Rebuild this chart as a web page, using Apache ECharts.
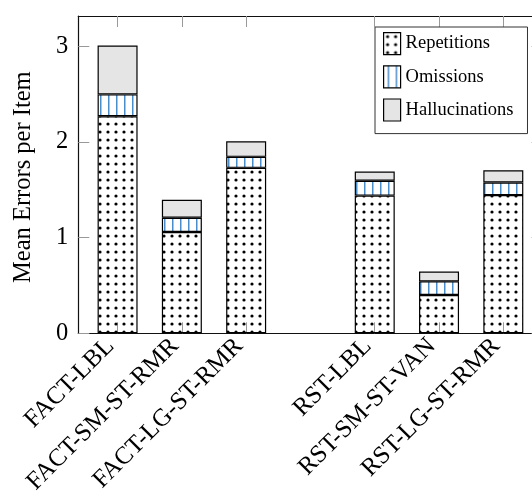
<!DOCTYPE html>
<html><head><meta charset="utf-8">
<script src="https://cdn.jsdelivr.net/npm/echarts@6/dist/echarts.min.js"></script>
<style>html,body{margin:0;padding:0;background:#fff}#c{width:532px;height:492px}</style>
</head><body><div id="c"></div>
<script>
const categories = ['FACT-LBL','FACT-SM-ST-RMR','FACT-LG-ST-RMR','','RST-LBL','RST-SM-ST-VAN','RST-LG-ST-RMR'];
const seriesNames = ['Repetitions','Omissions','Hallucinations'];
const repetitions = [2.27,1.06,1.73,null,1.44,0.40,1.445];
const omissions = [0.228,0.149,0.115,null,0.155,0.143,0.132];
const hallucinations = [0.512,0.188,0.163,null,0.097,0.102,0.128];
const yTicks = [0,1,2,3];

const FONT = '"Liberation Serif","Times New Roman",serif';
const tickIdx = categories.map((c,i)=>c?i:null).filter(v=>v!==null);

function dotPattern(){
  const c=document.createElement('canvas'); c.width=8; c.height=8;
  const g=c.getContext('2d'); g.fillStyle='#000';
  g.beginPath(); g.arc(4,4,1.6,0,2*Math.PI); g.fill();
  return c;
}
function linePattern(){
  const c=document.createElement('canvas'); c.width=8; c.height=8;
  const g=c.getContext('2d');
  g.fillStyle='#4a8dcb'; g.fillRect(4,0,1,8);
  g.fillStyle='rgba(74,141,203,0.5)'; g.fillRect(5,0,1,8);
  return c;
}
const fills = [
  {image: dotPattern(), repeat:'repeat'},
  {image: linePattern(), repeat:'repeat'},
  '#e5e5e5'
];
const valueSets = [repetitions, omissions, hallucinations];

const axisLineStyle = {color:'#111', width:1.2};
const tickStyle = {color:'#999', width:1};
const xMin = -0.611, xMax = 6.611;
const AX_FS = 24.5;

const chart = echarts.init(document.getElementById('c'), null, {renderer:'canvas'});
chart.setOption({
  animation:false,
  backgroundColor:'#fff',
  grid:{left:78.3, top:16, right:-10.6, bottom:158.7, containLabel:false, outerBoundsMode:'none'},
  legend:{
    orient:'vertical', left:375, top:27, padding:[5,14,12,8],
    itemWidth:17, itemHeight:22, itemGap:10, icon:'rect',
    backgroundColor:'#fff', borderColor:'#333', borderWidth:1,
    textStyle:{fontFamily:FONT, fontSize:18.5, color:'#000'},
    itemStyle:{borderColor:'#000', borderWidth:1.2},
    data:seriesNames
  },
  xAxis:[
    {type:'value', min:xMin, max:xMax, position:'bottom',
     axisLine:{show:true, onZero:false, lineStyle:axisLineStyle},
     axisTick:{show:true, inside:true, length:11, customValues:tickIdx, lineStyle:tickStyle},
     axisLabel:{show:true, customValues:tickIdx, rotate:45, margin:2, padding:[0,10,0,0],
       formatter:(v)=>categories[Math.round(v)],
       fontFamily:FONT, fontSize:25, color:'#000'},
     splitLine:{show:false}},
    {type:'value', min:xMin, max:xMax, position:'top',
     axisLine:{show:true, onZero:false, lineStyle:axisLineStyle},
     axisTick:{show:true, inside:true, length:11, customValues:tickIdx, lineStyle:tickStyle},
     axisLabel:{show:false}, splitLine:{show:false}}
  ],
  yAxis:[
    {type:'value', min:0, max:3.318, position:'left',
     axisLine:{show:true, onZero:false, lineStyle:axisLineStyle},
     axisTick:{show:true, inside:true, length:11, customValues:yTicks, lineStyle:tickStyle},
     axisLabel:{show:true, customValues:yTicks, margin:10, fontFamily:FONT, fontSize:AX_FS, color:'#000'},
     splitLine:{show:false},
     name:'Mean Errors per Item', nameLocation:'middle', nameGap:42,
     nameTextStyle:{fontFamily:FONT, fontSize:AX_FS, color:'#000', padding:[0,5,0,0]}},
    {type:'value', min:0, max:3.318, position:'right',
     axisLine:{show:true, onZero:false, lineStyle:axisLineStyle},
     axisTick:{show:true, inside:true, length:11, customValues:yTicks, lineStyle:tickStyle},
     axisLabel:{show:false}, splitLine:{show:false}}
  ],
  series: seriesNames.map((name,k)=>({
    name, type:'bar', stack:'total', xAxisIndex:0, yAxisIndex:0, barWidth:40,
    itemStyle:{color:fills[k], borderColor:'#000', borderWidth:1.2},
    encode:{x:1, y:0},
    data: valueSets[k].map((v,i)=> v===null ? null : [v, i]).filter(d=>d!==null)
  }))
});
</script></body></html>
